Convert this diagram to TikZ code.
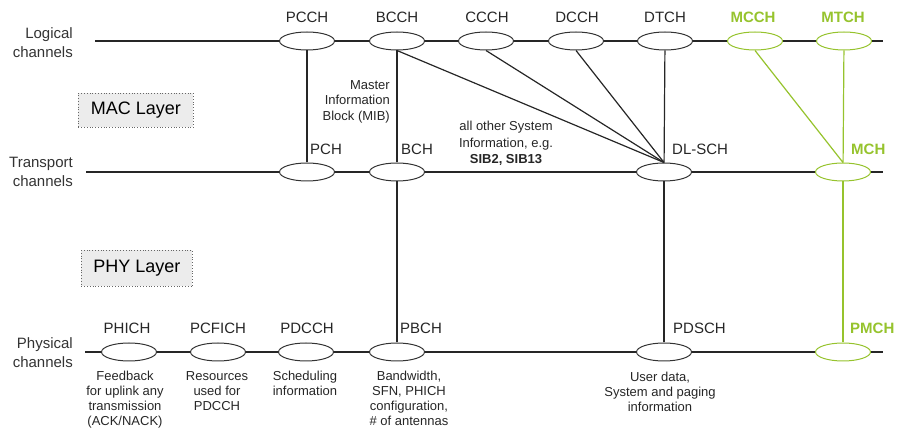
\documentclass[tikz,border=0pt]{standalone}
\usepackage{fontspec}
\setmainfont{Liberation Sans}
\usetikzlibrary{shapes.geometric}
\definecolor{mgreen}{RGB}{150,195,45}
\definecolor{lgrey}{RGB}{236,236,236}
\begin{document}
\begin{tikzpicture}[x=1pt,y=-1pt,
 chan/.style={ellipse,draw=black!80,fill=white,line width=1pt,minimum width=55pt,minimum height=18pt,inner sep=0pt},
 gchan/.style={chan,draw=mgreen},
 lbl/.style={font=\fontsize{15}{17}\selectfont,inner sep=0pt,text=black!85},
 glbl/.style={lbl,text=mgreen,font=\fontsize{15}{17}\selectfont\bfseries},
 desc/.style={font=\fontsize{13}{15}\selectfont,align=center,inner sep=0pt,anchor=north,text=black!85},
 side/.style={font=\fontsize{15}{19}\selectfont,align=right,anchor=east,inner sep=0pt,text=black!80},
 layerbox/.style={draw=black!60,dotted,line width=0.8pt,fill=lgrey,font=\fontsize{18}{20}\selectfont,inner sep=0pt,anchor=north west},
 wire/.style={line width=1.2pt,black!85},
 gwire/.style={line width=1.2pt,mgreen}]
\useasboundingbox (0,0) rectangle (900,435);

% side labels
\node[side] (logl) at (73,43) {Logical\\channels};
\node[side] (trl) at (73,172) {Transport\\channels};
\node[side] (phl) at (73,353) {Physical\\channels};

% layer boxes
\node[layerbox,minimum width=115pt,minimum height=34pt] (mac) at (78,93) {MAC Layer};
\node[layerbox,minimum width=111pt,minimum height=36pt] (phy) at (81,250) {PHY Layer};

% line end coordinates
\coordinate (ls) at (95,41);
\coordinate (le) at (883,41);
\coordinate (ts) at (86,172);
\coordinate (te) at (883,172);
\coordinate (ps) at (85,352);
\coordinate (pe) at (883,352);

% logical channels
\node[chan] (pcch) at (307,41) {};
\node[chan] (bcch) at (397,41) {};
\node[chan] (ccch) at (486,41) {};
\node[chan] (dcch) at (576,41) {};
\node[chan] (dtch) at (665,41) {};
\node[gchan] (mcch) at (755,41) {};
\node[gchan] (mtch) at (844,41) {};

% transport channels
\node[chan] (pch) at (307,172) {};
\node[chan] (bch) at (397,172) {};
\node[chan] (dlsch) at (664,172) {};
\node[gchan] (mch) at (843,172) {};

% physical channels
\node[chan] (phich) at (129,352) {};
\node[chan] (pcfich) at (218,352) {};
\node[chan] (pdcch) at (306,352) {};
\node[chan] (pbch) at (397,352) {};
\node[chan] (pdsch) at (664,352) {};
\node[gchan] (pmch) at (843,352) {};

% horizontal lines
\draw[wire] (ls) -- (pcch) -- (bcch) -- (ccch) -- (dcch) -- (dtch) -- (mcch) -- (mtch) -- (le);
\draw[wire] (ts) -- (pch) -- (bch) -- (dlsch) -- (mch) -- (te);
\draw[wire] (ps) -- (phich) -- (pcfich) -- (pdcch) -- (pbch) -- (pdsch) -- (pmch) -- (pe);

% vertical / diagonal mappings
\draw[wire] (pcch) -- (pch);
\draw[wire] (bcch) -- (bch);
\draw[wire] (bch) -- (pbch);
\draw[wire] (dtch) -- (dlsch);
\draw[wire] (dlsch) -- (pdsch);
\draw[wire] (bcch.south) -- (dlsch.north);
\draw[wire] (ccch.south) -- (dlsch.north);
\draw[wire] (dcch.south) -- (dlsch.north);
\draw[gwire] (mtch) -- (mch);
\draw[gwire] (mch) -- (pmch);
\draw[gwire] (mcch.south) -- (mch.north);

% channel labels
\node[lbl] (tpcch) at (307,17) {PCCH};
\node[lbl] (tbcch) at (397,17) {BCCH};
\node[lbl] (tccch) at (487,17) {CCCH};
\node[lbl] (tdcch) at (577,17) {DCCH};
\node[lbl] (tdtch) at (665,17) {DTCH};
\node[glbl] (tmcch) at (753,17) {MCCH};
\node[glbl] (tmtch) at (843,17) {MTCH};

\node[lbl,anchor=west] (tpch) at (310,149) {PCH};
\node[lbl,anchor=west] (tbch) at (401,149) {BCH};
\node[lbl,anchor=west] (tdlsch) at (672,149) {DL-SCH};
\node[glbl,anchor=west] (tmch) at (851,149) {MCH};

\node[lbl] (tphich) at (127,328) {PHICH};
\node[lbl] (tpcfich) at (218,328) {PCFICH};
\node[lbl] (tpdcch) at (307,328) {PDCCH};
\node[lbl,anchor=west] (tpbch) at (400,328) {PBCH};
\node[lbl,anchor=west] (tpdsch) at (673,328) {PDSCH};
\node[glbl,anchor=west] (tpmch) at (850,328) {PMCH};

% descriptions
\node[desc,align=right,anchor=north east,font=\fontsize{13}{15.5}\selectfont] (mib) at (390,80) {Master\\Information\\Block (MIB)};
\node[desc,font=\fontsize{13}{16.5}\selectfont] (sib) at (506,121) {all other System\\Information, e.g.\\\textbf{SIB2, SIB13}};

\node[desc] (dphich) at (125,371) {Feedback\\for uplink any\\transmission\\(ACK/NACK)};
\node[desc] (dpcfich) at (217,371) {Resources\\used for\\PDCCH};
\node[desc] (dpdcch) at (305,371) {Scheduling\\information};
\node[desc] (dpbch) at (409,371) {Bandwidth,\\SFN, PHICH\\configuration,\\\# of antennas};
\node[desc] (dpdsch) at (660,372) {User data,\\System and paging\\information};
\end{tikzpicture}
\end{document}
